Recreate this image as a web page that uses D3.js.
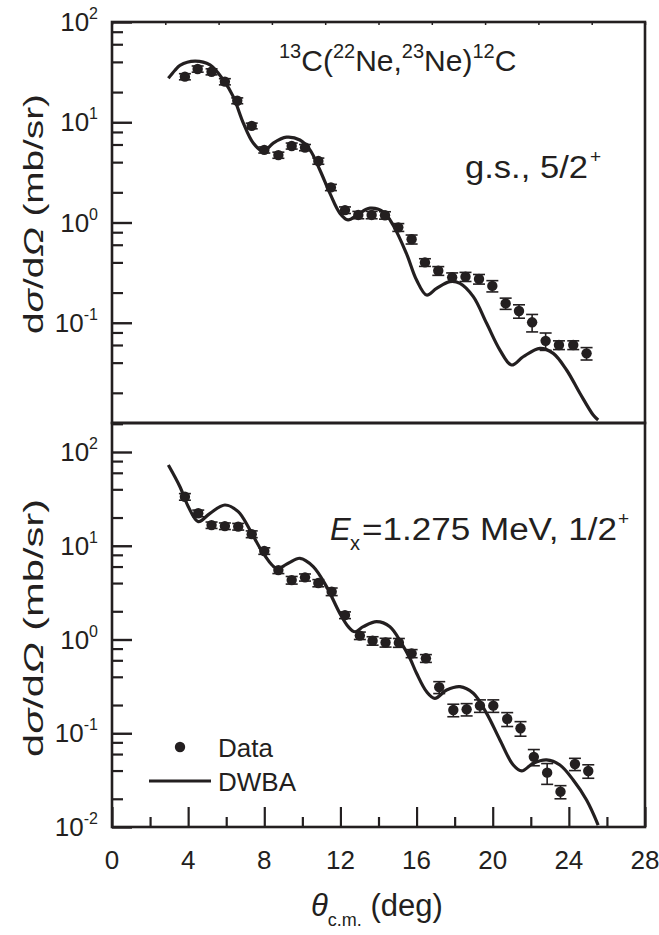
<!DOCTYPE html>
<html>
<head>
<meta charset="utf-8">
<script src="https://cdn.jsdelivr.net/npm/d3@7"></script>
<style>
  html, body { margin: 0; padding: 0; background: #fff; }
  svg text { font-family: "Liberation Sans", Arial, sans-serif; fill: #231f20; }
</style>
</head>
<body>
<svg id="chart" width="659" height="935"></svg>
<script>
// Angular distributions for 13C(22Ne,23Ne)12C

// Ground state, 5/2+ : measured points
const angleGs = [3.83, 4.50, 5.23, 5.93, 6.58, 7.34, 8.00, 8.74, 9.44, 10.14, 10.84, 11.50, 12.24, 12.94, 13.64, 14.34, 15.04, 15.74, 16.44, 17.14, 17.87, 18.57, 19.28, 19.98, 20.68, 21.38, 22.07, 22.78, 23.48, 24.23, 24.93];
const sigmaGs = [28.5, 34, 31.9, 25.4, 16.4, 9.2, 5.3, 4.7, 5.8, 5.6, 4.1, 2.24, 1.33, 1.19, 1.19, 1.18, 0.895, 0.68, 0.40, 0.33, 0.284, 0.288, 0.273, 0.233, 0.156, 0.131, 0.101, 0.066, 0.060, 0.060, 0.0495];
const errorGs = [2.0, 2.4, 2.2, 1.8, 1.1, 0.6, 0.37, 0.33, 0.4, 0.4, 0.29, 0.16, 0.1, 0.1, 0.1, 0.1, 0.08, 0.07, 0.035, 0.033, 0.03, 0.03, 0.03, 0.03, 0.02, 0.02, 0.02, 0.013, 0.006, 0.006, 0.007];

// Ground state : DWBA calculation
const dwbaAngleGs = [2.96, 3.31, 3.57, 4.36, 5.15, 5.85, 6.37, 6.90, 7.42, 7.95, 8.47, 9.17, 9.87, 10.40, 10.92, 11.45, 11.97, 12.40, 12.90, 13.55, 14.25, 14.77, 15.47, 16.00, 16.53, 17.05, 17.75, 18.28, 18.98, 19.68, 20.38, 20.99, 21.60, 22.48, 23.18, 23.88, 24.58, 25.28, 25.54];
const dwbaSigmaGs = [27.4, 33, 37, 40.8, 37.3, 26.4, 18, 9.8, 6.2, 5.1, 6.2, 7.1, 6.65, 5.3, 3.34, 1.95, 1.24, 1.06, 1.2, 1.39, 1.28, 0.94, 0.49, 0.267, 0.189, 0.22, 0.257, 0.247, 0.182, 0.0987, 0.0534, 0.0379, 0.0458, 0.0556, 0.0495, 0.0338, 0.0198, 0.012, 0.0107];

// Ex = 1.275 MeV, 1/2+ : measured points
const angleEx = [3.83, 4.53, 5.23, 5.93, 6.63, 7.34, 8.00, 8.74, 9.44, 10.14, 10.84, 11.54, 12.24, 13.02, 13.69, 14.37, 15.07, 15.74, 16.49, 17.19, 17.93, 18.63, 19.33, 20.03, 20.76, 21.46, 22.16, 22.86, 23.56, 24.32, 25.02];
const sigmaEx = [33.3, 22.2, 16.6, 16.2, 16.0, 13.3, 8.8, 5.5, 4.3, 4.6, 4.0, 3.24, 1.82, 1.10, 0.97, 0.93, 0.925, 0.71, 0.63, 0.31, 0.177, 0.18, 0.197, 0.197, 0.142, 0.113, 0.056, 0.038, 0.0238, 0.047, 0.0396];
const errorEx = [2.7, 1.8, 1.3, 1.3, 1.3, 1.1, 0.7, 0.45, 0.4, 0.4, 0.35, 0.3, 0.15, 0.1, 0.1, 0.1, 0.1, 0.07, 0.06, 0.045, 0.027, 0.027, 0.03, 0.03, 0.024, 0.02, 0.011, 0.0095, 0.0038, 0.007, 0.0065];

// Ex = 1.275 MeV : DWBA calculation
const dwbaAngleEx = [2.96, 3.57, 4.01, 4.53, 5.15, 5.93, 6.63, 7.25, 7.95, 8.65, 9.26, 9.87, 10.57, 11.27, 11.97, 12.41, 12.76, 13.20, 13.90, 14.60, 15.21, 15.65, 16.00, 16.53, 16.96, 17.58, 18.28, 18.98, 19.68, 20.38, 21.08, 21.52, 22.13, 22.83, 23.53, 24.23, 24.93, 25.54];
const dwbaSigmaEx = [72.6, 42.6, 26.1, 18.1, 22.2, 27.2, 23.1, 14.7, 8.3, 5.75, 6.5, 7.35, 6.0, 3.66, 1.9, 1.37, 1.21, 1.37, 1.55, 1.37, 0.91, 0.63, 0.436, 0.277, 0.236, 0.289, 0.314, 0.267, 0.163, 0.0848, 0.0458, 0.0396, 0.0478, 0.0519, 0.0458, 0.0317, 0.0194, 0.0105];

// Axis ticks
const xTickLabels = [0, 4, 8, 12, 16, 20, 24, 28];
const xMinorTicks = [2, 6, 10, 14, 18, 22, 26];
const topEdgeTicks = d3.range(0, 28.01, 2.8);
const decadesGs = [-1, 0, 1, 2];
const decadesEx = [-2, -1, 0, 1, 2];
const minorMultipliers = [2, 4, 6, 8];

const svg = d3.select("#chart");
const ink = "#231f20";
const left = 112, right = 645;
const x = d3.scaleLinear().domain([0, 28]).range([left, right]);

const panels = [
  { top: 22, bottom: 423, domain: [0.01, 100], decades: decadesGs,
    angle: angleGs, sigma: sigmaGs, err: errorGs,
    dAngle: dwbaAngleGs, dSigma: dwbaSigmaGs, titleY: 214, titleLen: 240, id: "gs" },
  { top: 423, bottom: 827, domain: [0.01, 100 * Math.pow(10, 29 / 93.75)], decades: decadesEx,
    angle: angleEx, sigma: sigmaEx, err: errorEx,
    dAngle: dwbaAngleEx, dSigma: dwbaSigmaEx, titleY: 628, titleLen: 258, id: "ex" }
];

panels.forEach(p => {
  const y = d3.scaleLog().domain(p.domain).range([p.bottom, p.top]);
  const g = svg.append("g");

  svg.append("clipPath").attr("id", "clip-" + p.id)
    .append("rect").attr("x", left).attr("y", p.top).attr("width", right - left).attr("height", p.bottom - p.top);

  // minor y ticks (2,4,6,8 × decade)
  const minors = [];
  d3.range(-2, 3).forEach(e => minorMultipliers.forEach(m => {
    const v = m * Math.pow(10, e);
    if (v > p.domain[0] && v < p.domain[1]) minors.push(v);
  }));
  const majors = p.decades.map(e => Math.pow(10, e)).filter(v => v >= p.domain[0] && v <= p.domain[1]);

  g.append("g").attr("transform", `translate(${left},0)`)
    .call(d3.axisRight(y).tickValues(minors).tickSize(11).tickFormat(""))
    .call(a => a.select(".domain").remove())
    .call(a => a.selectAll("line").attr("stroke", ink).attr("stroke-width", 2.2));
  g.append("g").attr("transform", `translate(${left},0)`)
    .call(d3.axisRight(y).tickValues(majors).tickSize(20).tickFormat(""))
    .call(a => a.select(".domain").remove())
    .call(a => a.selectAll("line").attr("stroke", ink).attr("stroke-width", 2.4));

  // decade labels 10^n
  const lab = g.selectAll("text.ylab").data(p.decades).join("text")
    .attr("class", "ylab")
    .attr("x", 98).attr("y", d => y(Math.pow(10, d)) + 9)
    .attr("text-anchor", "end")
    .style("font-size", "26px");
  lab.append("tspan").text("10");
  lab.append("tspan").attr("dy", -12).style("font-size", "16px").text(d => d);

  // y title
  const t = svg.append("text")
    .attr("transform", `translate(43,${p.titleY}) rotate(-90)`)
    .attr("text-anchor", "middle")
    .attr("textLength", p.titleLen)
    .attr("lengthAdjust", "spacingAndGlyphs")
    .style("font-size", "28px");
  t.append("tspan").text("d");
  t.append("tspan").style("font-style", "italic").text("σ");
  t.append("tspan").text("/d");
  t.append("tspan").style("font-style", "italic").text("Ω");
  t.append("tspan").text(" (mb/sr)");

  // DWBA curve
  const line = d3.line().x(d => x(d[0])).y(d => y(d[1])).curve(d3.curveCatmullRom.alpha(0.5));
  svg.append("path")
    .datum(p.dAngle.map((a, i) => [a, p.dSigma[i]]))
    .attr("clip-path", `url(#clip-${p.id})`)
    .attr("d", line)
    .attr("fill", "none").attr("stroke", ink).attr("stroke-width", 3.2)
    .attr("stroke-linejoin", "round");

  // data with error bars
  const pts = p.angle.map((a, i) => ({ a, v: p.sigma[i], e: p.err[i] }));
  const eg = svg.append("g").attr("stroke", ink).attr("stroke-width", 1.6);
  eg.selectAll("line.bar").data(pts).join("line")
    .attr("x1", d => x(d.a)).attr("x2", d => x(d.a))
    .attr("y1", d => y(d.v + d.e)).attr("y2", d => y(Math.max(d.v - d.e, 1e-4)));
  eg.selectAll("line.capt").data(pts).join("line")
    .attr("x1", d => x(d.a) - 6).attr("x2", d => x(d.a) + 6)
    .attr("y1", d => y(d.v + d.e)).attr("y2", d => y(d.v + d.e));
  eg.selectAll("line.capb").data(pts).join("line")
    .attr("x1", d => x(d.a) - 6).attr("x2", d => x(d.a) + 6)
    .attr("y1", d => y(d.v - d.e)).attr("y2", d => y(d.v - d.e));
  svg.append("g").selectAll("circle").data(pts).join("circle")
    .attr("cx", d => x(d.a)).attr("cy", d => y(d.v)).attr("r", 5.2).attr("fill", ink);
});

// x axis ticks on the bottom edge (pointing inward)
const yb = panels[1].bottom;
svg.append("g").attr("transform", `translate(0,${yb})`)
  .call(d3.axisTop(x).tickValues(xTickLabels).tickSize(20).tickFormat(""))
  .call(a => a.select(".domain").remove())
  .call(a => a.selectAll("line").attr("stroke", ink).attr("stroke-width", 2.2));
svg.append("g").attr("transform", `translate(0,${yb})`)
  .call(d3.axisTop(x).tickValues(xMinorTicks).tickSize(10).tickFormat(""))
  .call(a => a.select(".domain").remove())
  .call(a => a.selectAll("line").attr("stroke", ink).attr("stroke-width", 2.2));
svg.selectAll("text.xlab").data(xTickLabels).join("text")
  .attr("class", "xlab")
  .attr("x", d => x(d)).attr("y", 869)
  .attr("text-anchor", "middle").style("font-size", "26px").text(d => d);

// small ticks along the top edge
svg.append("g").attr("transform", `translate(0,${panels[0].top})`)
  .call(d3.axisBottom(x).tickValues(topEdgeTicks).tickSize(3).tickFormat(""))
  .call(a => a.select(".domain").remove())
  .call(a => a.selectAll("line").attr("stroke", ink).attr("stroke-width", 1.5));

// frames
panels.forEach(p => {
  svg.append("rect").attr("x", left).attr("y", p.top).attr("width", right - left).attr("height", p.bottom - p.top)
    .attr("fill", "none").attr("stroke", ink).attr("stroke-width", 2.6);
});

// x title
const xt = svg.append("text").attr("x", 311).attr("y", 916).style("font-size", "31px");
xt.append("tspan").style("font-style", "italic").text("θ");
xt.append("tspan").attr("dy", 10).style("font-size", "18px").text("c.m.");
xt.append("tspan").attr("dy", -10).text(" (deg)");

// reaction label
const r = svg.append("text").attr("x", 279).attr("y", 71).style("font-size", "30px");
r.append("tspan").attr("dy", -13).style("font-size", "20px").text("13");
r.append("tspan").attr("dy", 13).text("C(");
r.append("tspan").attr("dy", -13).style("font-size", "20px").text("22");
r.append("tspan").attr("dy", 13).text("Ne,");
r.append("tspan").attr("dy", -13).style("font-size", "20px").text("23");
r.append("tspan").attr("dy", 13).text("Ne)");
r.append("tspan").attr("dy", -13).style("font-size", "20px").text("12");
r.append("tspan").attr("dy", 13).text("C");

// state labels
svg.append("text").attr("x", 465).attr("y", 178).style("font-size", "31px")
  .attr("textLength", 123).attr("lengthAdjust", "spacingAndGlyphs").text("g.s., 5/2");
svg.append("text").attr("x", 590).attr("y", 163).style("font-size", "19px").text("+");

svg.append("text").attr("x", 330).attr("y", 540).style("font-size", "31px").style("font-style", "italic").text("E");
svg.append("text").attr("x", 350).attr("y", 550).style("font-size", "20px").text("x");
svg.append("text").attr("x", 362).attr("y", 540).style("font-size", "31px")
  .attr("textLength", 255).attr("lengthAdjust", "spacingAndGlyphs").text("=1.275 MeV, 1/2");
svg.append("text").attr("x", 618).attr("y", 525).style("font-size", "19px").text("+");

// legend
svg.append("circle").attr("cx", 180).attr("cy", 747).attr("r", 5.2).attr("fill", ink);
svg.append("text").attr("x", 218).attr("y", 757).style("font-size", "26px").text("Data");
svg.append("line").attr("x1", 149).attr("x2", 211).attr("y1", 781).attr("y2", 781)
  .attr("stroke", ink).attr("stroke-width", 3.2);
svg.append("text").attr("x", 218).attr("y", 791).style("font-size", "26px").text("DWBA");
</script>
</body>
</html>
